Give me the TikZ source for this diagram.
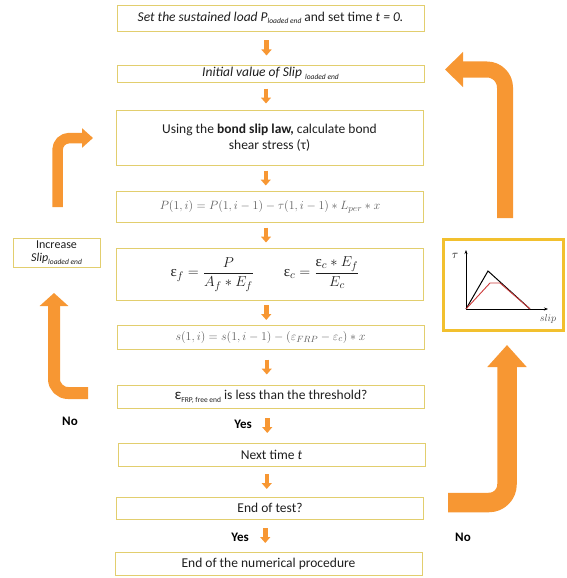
\documentclass[tikz,border=0pt]{standalone}
\usepackage{amsmath}
\usepackage{fontspec}
\setmainfont{Carlito}
\newfontfamily\serifgr{Liberation Serif}
\usetikzlibrary{arrows.meta}
\definecolor{arr}{RGB}{247,151,51}
\definecolor{bxline}{RGB}{226,206,110}
\definecolor{gold}{RGB}{242,192,46}
\definecolor{txt}{RGB}{30,30,30}
\definecolor{frm}{RGB}{95,95,95}
\definecolor{redl}{RGB}{205,60,60}
\newcommand\mysub[1]{\raisebox{-0.4ex}{\fontsize{7.5}{8}\selectfont #1}}
\newcommand\upeps{\text{\serifgr ε}}
\begin{document}
\begin{tikzpicture}[x=1pt,y=-1pt,
  box/.style={draw=bxline, line width=0.8pt, inner sep=0pt, align=center, text=txt,
    font=\fontsize{13.5}{16}\selectfont, minimum width=307pt},
  smallarr/.style={draw=arr, line width=4.5pt, -{Triangle[width=10pt,length=6pt]}},
  lbl/.style={font=\bfseries\fontsize{13}{15}\selectfont, text=black},
  bigarr/.style={draw=arr, line join=round}
]
\useasboundingbox (0,0) rectangle (566,578);
% main column
\node[box, minimum height=26pt] (b1) at (270.5,18) {\textit{Set the sustained load P}\mysub{\textit{loaded end}} and set time \textit{t = 0.}};
\node[box, minimum height=17pt] (b2) at (270.5,73.5) {\textit{Initial value of Slip }\mysub{\textit{loaded end}}};
\node[box, minimum height=55pt] (b3) at (269.5,137.5) {Using the \textbf{bond slip law,} calculate bond\\shear stress (τ)};
\node[box, minimum height=31pt, text=frm, font=\fontsize{13}{15}\selectfont] (b4) at (270,206.5) {$P(1,i) = P(1,i-1) - \tau(1,i-1) \ast L_{per} \ast x$};
\node[box, minimum height=52pt, font=\fontsize{15}{17}\selectfont] (b5) at (270,274) {\hspace*{-10pt}$\upeps_f = \dfrac{P}{A_f \ast E_f}$\hspace{30pt}$\upeps_c = \dfrac{\upeps_c \ast E_f}{E_c}$};
\node[box, minimum height=24pt, text=frm, font=\fontsize{13}{15}\selectfont] (b6) at (270.5,337) {$s(1,i) = s(1,i-1) - (\varepsilon_{FRP} - \varepsilon_c) \ast x$};
\node[box, minimum height=23pt] (b7) at (271,396.5) {{\fontsize{15}{16}\selectfont ε}\mysub{FRP, free end} is less than the threshold?};
\node[box, minimum height=23pt] (b8) at (271.5,454.5) {Next time \textit{t}};
\node[box, minimum height=22pt] (b9) at (270,508) {End of test?};
\node[box, minimum height=23pt] (b10) at (268.5,563.5) {End of the numerical procedure};
% small arrows
\foreach \a/\b in {b1/b2,b2/b3,b3/b4,b4/b5,b5/b6,b6/b7,b7/b8,b8/b9,b9/b10}{
  \path (\a.south) -- (\b.north) coordinate[midway] (m\a);
  \draw[smallarr] ([shift={(-4,-7.5)}]m\a) -- ([shift={(-4,7.5)}]m\a);
}
\node[lbl] (yes1) at (243,424) {Yes};
\node[lbl] (yes2) at (240,537) {Yes};
\node[lbl] (no1) at (70,421) {No};
\node[lbl] (no2) at (463,537) {No};
% left box
\node[box, minimum width=87pt, minimum height=29pt, font=\fontsize{12}{13.5}\selectfont] (inc) at (56.5,252.5) {Increase\\\textit{Slip}\mysub{\textit{loaded end}}};
% chart box
\node[draw=gold, line width=3pt, minimum width=120pt, minimum height=91pt, inner sep=0pt] (chart) at (503.5,285) {};
\coordinate (o) at (466,309);
\draw[line width=0.6pt, -{Stealth[length=4pt,width=3pt]}] (o) -- (466,250);
\draw[line width=0.6pt, -{Stealth[length=4pt,width=3pt]}] (o) -- (548,309);
\node[font=\fontsize{12}{13}\selectfont] (tau) at (455,256) {$\tau$};
\node[font=\fontsize{10}{11}\selectfont, text=black!70] (slp) at (548,318.5) {$slip$};
\draw[black, line width=1pt] (o) -- (488,271) -- (530,309);
\draw[redl, line width=0.9pt] (o) -- (490,283) -- (500,283) -- (530,309);
% big arrows
\coordinate (lbs) at (88,393);
\coordinate (lbt) at (54,293);
\draw[bigarr, line width=12pt, rounded corners=14pt, -{Triangle[width=28pt,length=13pt]}] (lbs) -- (lbt |- lbs) -- (lbt);
\coordinate (tls) at (57.5,207);
\coordinate (tlt) at (93,138);
\draw[bigarr, line width=10.5pt, rounded corners=12pt, -{Triangle[width=19pt,length=11pt]}] (tls) -- (tls |- tlt) -- (tlt);
\coordinate (trs) at (505,218);
\coordinate (trt) at (445,69.5);
\draw[bigarr, line width=16pt, rounded corners=18pt, -{Triangle[width=34pt,length=18pt]}] (trs) -- (trs |- trt) -- (trt);
\coordinate (brs) at (448,502.5);
\coordinate (brt) at (507,345);
\draw[bigarr, line width=19.5pt, rounded corners=18pt, -{Triangle[width=38pt,length=22pt]}] (brs) -- (brt |- brs) -- (brt);
\end{tikzpicture}
\end{document}
